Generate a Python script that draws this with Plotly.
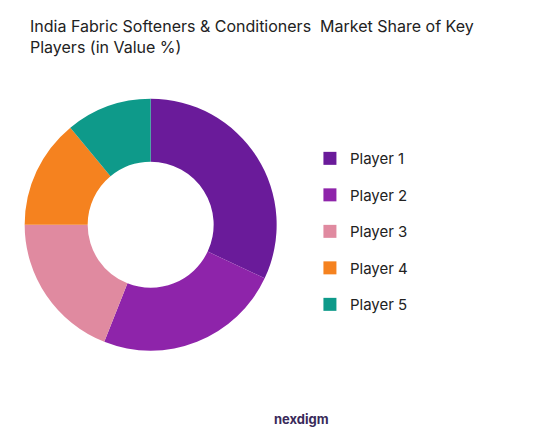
import plotly.graph_objects as go

players = ["Player 1", "Player 2", "Player 3", "Player 4", "Player 5"]
shares = [32, 24, 19, 14, 11]
colors = ["#6A1B9A", "#8E24AA", "#E08AA0", "#F5821F", "#0E9A8A"]

fig = go.Figure(go.Pie(
    labels=players,
    values=shares,
    hole=0.5,
    sort=False,
    direction="clockwise",
    rotation=0,
    marker=dict(colors=colors),
    textinfo="none",
    showlegend=False,
    domain=dict(x=[0.03, 0.485], y=[0.203, 0.789]),
))

# legend entries as separate groups so the spacing can match
for name, col in zip(players, colors):
    fig.add_trace(go.Scatter(
        x=[None], y=[None], mode="markers", name=name, legendgroup=name,
        marker=dict(symbol="square", size=13, color=col),
    ))

fig.update_layout(
    width=554,
    height=430,
    margin=dict(l=0, r=0, t=0, b=0),
    paper_bgcolor="white",
    plot_bgcolor="white",
    xaxis=dict(visible=False),
    yaxis=dict(visible=False),
    font=dict(family="Inter, Lato, sans-serif", color="#222"),
    showlegend=True,
    legend=dict(
        x=0.545, y=0.48, xanchor="left", yanchor="middle",
        font=dict(size=15, color="#222"),
        itemwidth=30, tracegroupgap=14,
    ),
    annotations=[
        dict(text="India Fabric Softeners & Conditioners  Market Share of Key<br>Players (in Value %)",
             x=0.036, y=0.985, xref="paper", yref="paper", xanchor="left", yanchor="top",
             align="left", showarrow=False, font=dict(size=16, color="#222")),
        dict(text="<b>nexdigm</b>", x=0.53, y=0.045, xref="paper", yref="paper",
             xanchor="center", yanchor="middle", showarrow=False,
             font=dict(size=13, color="#3a2a5a")),
    ],
)

fig.write_html("out.html")
